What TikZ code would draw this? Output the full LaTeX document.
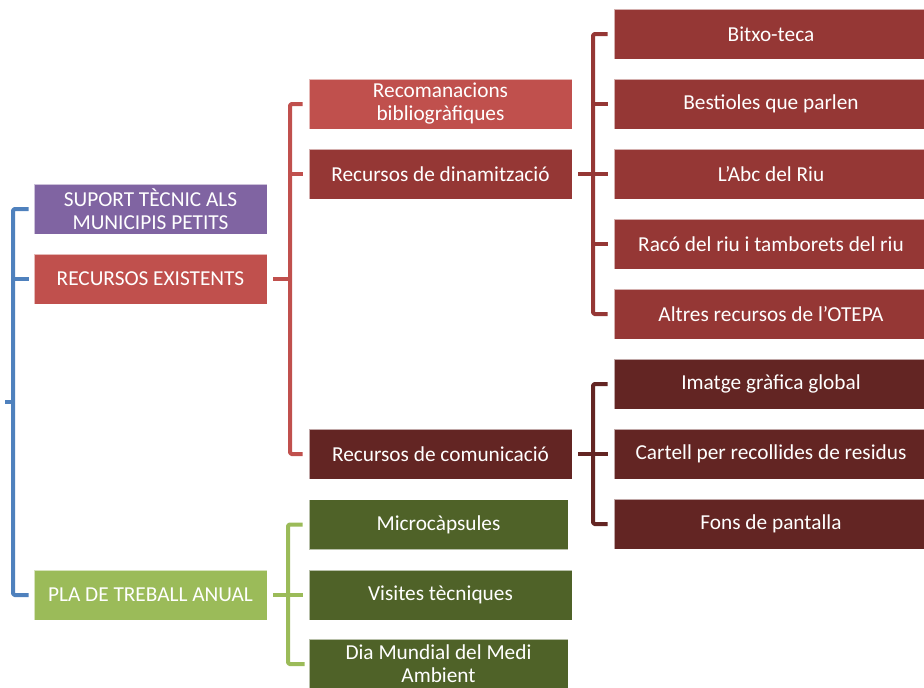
\documentclass[tikz,border=0pt]{standalone}
\usepackage{fontspec}
\setmainfont{Carlito}
\definecolor{cblue}{HTML}{4F81BD}
\definecolor{cpurple}{HTML}{8064A2}
\definecolor{cred}{HTML}{C0504D}
\definecolor{cdred}{HTML}{953735}
\definecolor{cmaroon}{HTML}{632523}
\definecolor{clgreen}{HTML}{9BBB59}
\definecolor{cdgreen}{HTML}{4F6228}
\tikzset{
  box/.style={rectangle, draw=white, draw opacity=0.6, line width=0.6pt, text=white,
    minimum height=50pt, inner sep=0pt, align=center,
    font=\fontsize{21.3}{23}\selectfont},
  lvlA/.style={box, minimum width=233pt},
  lvlB/.style={box, minimum width=263pt},
  lvlBs/.style={box, minimum width=259pt},
  lvlC/.style={box, minimum width=314pt},
  conn/.style={line width=4pt, line join=round, rounded corners=1.5pt}
}
\begin{document}
\begin{tikzpicture}[x=1pt,y=-1pt]
\useasboundingbox (0,0) rectangle (924,688);
% level 1
\node[lvlA, fill=cpurple] (sup) at (150.5,209) {SUPORT TÈCNIC ALS\\MUNICIPIS PETITS};
\node[lvlA, fill=cred] (rex) at (150.5,279) {RECURSOS EXISTENTS};
\node[lvlA, fill=clgreen] (pla) at (150.5,595) {PLA DE TREBALL ANUAL};
% level 2
\node[lvlB, fill=cred] (rec) at (440.5,104) {Recomanacions\\bibliogràfiques};
\node[lvlB, fill=cdred] (din) at (440.5,174) {Recursos de dinamització};
\node[lvlB, fill=cmaroon] (com) at (440.5,454) {Recursos de comunicació};
\node[lvlBs, fill=cdgreen] (mic) at (438.5,524.5) {Microcàpsules};
\node[lvlB, fill=cdgreen] (vis) at (440.5,595) {Visites tècniques};
\node[lvlBs, fill=cdgreen] (dia) at (438.5,664) {Dia Mundial del Medi\\Ambient};
% level 3
\node[lvlC, fill=cdred] (bit) at (771,34) {Bitxo-teca};
\node[lvlC, fill=cdred] (bes) at (771,104) {Bestioles que parlen};
\node[lvlC, fill=cdred] (abc) at (771,174) {L’Abc del Riu};
\node[lvlC, fill=cdred] (rac) at (771,244) {Racó del riu i tamborets del riu};
\node[lvlC, fill=cdred] (alt) at (771,314) {Altres recursos de l’OTEPA};
\node[lvlC, fill=cmaroon] (ima) at (771,384) {Imatge gràfica global};
\node[lvlC, fill=cmaroon] (car) at (771,454) {Cartell per recollides de residus};
\node[lvlC, fill=cmaroon] (fon) at (771,524) {Fons de pantalla};
% bracket columns
\coordinate (root) at (5,402);
\coordinate (bx) at (13,0);
\coordinate (rx) at (290,0);
\coordinate (gx) at (288,0);
\coordinate (dx) at (593,0);
% blue
\draw[conn, cblue] ([xshift=-5pt]sup.west) -- (sup.west -| bx) -- (pla.west -| bx) -- ([xshift=-5pt]pla.west);
\draw[conn, cblue] ([xshift=-5pt]rex.west) -- (rex.west -| bx);
\draw[conn, cblue] (root) -- (root -| bx);
% red
\draw[conn, cred] ([xshift=6pt]rex.east) -- (rex.east -| rx);
\draw[conn, cred] ([xshift=-6pt]rec.west) -- (rec.west -| rx) -- (com.west -| rx) -- ([xshift=-6pt]com.west);
\draw[conn, cred] ([xshift=-6pt]din.west) -- (din.west -| rx);
% dark red
\draw[conn, cdred] ([xshift=6pt]din.east) -- ([xshift=-6pt]abc.west);
\draw[conn, cdred] ([xshift=-6pt]bit.west) -- (bit.west -| dx) -- (alt.west -| dx) -- ([xshift=-6pt]alt.west);
\draw[conn, cdred] ([xshift=-6pt]bes.west) -- (bes.west -| dx);
\draw[conn, cdred] ([xshift=-6pt]rac.west) -- (rac.west -| dx);
% maroon
\draw[conn, cmaroon] ([xshift=6pt]com.east) -- ([xshift=-6pt]car.west);
\draw[conn, cmaroon] ([xshift=-6pt]ima.west) -- (ima.west -| dx) -- (fon.west -| dx) -- ([xshift=-6pt]fon.west);
% green
\draw[conn, clgreen] ([xshift=6pt]pla.east) -- ([xshift=-6pt]vis.west);
\draw[conn, clgreen] ([xshift=-6pt]mic.west) -- (mic.west -| gx) -- (dia.west -| gx) -- ([xshift=-4pt]dia.west);
\end{tikzpicture}
\end{document}
